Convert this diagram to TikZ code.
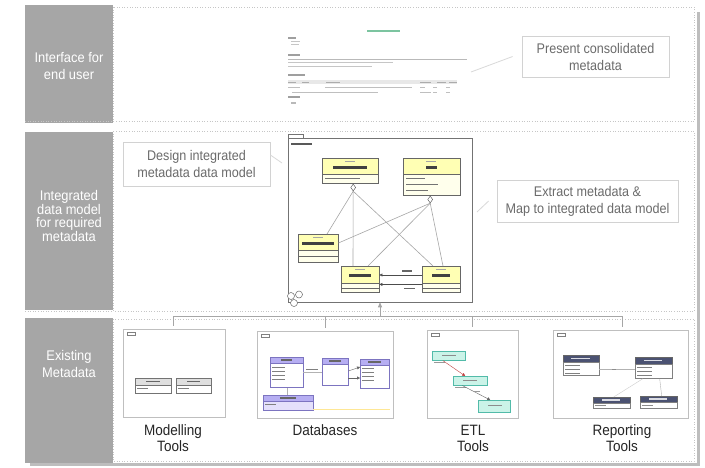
\documentclass[tikz,border=0pt]{standalone}
\usepackage{fontspec}
\setmainfont{Liberation Sans}
\newfontfamily\narrow[FakeStretch=0.9]{Liberation Sans}
\newfontfamily\colfont[FakeStretch=0.92]{Liberation Sans}
\usetikzlibrary{arrows.meta,shapes.geometric}
\definecolor{colgray}{HTML}{A6A6A6}
\definecolor{shadowgray}{HTML}{BDBDBD}
\definecolor{boxtext}{HTML}{6B6B6B}
\definecolor{boxline}{HTML}{D2D2D2}
\definecolor{umlyel}{HTML}{FFFFB4}
\definecolor{umlyel2}{HTML}{FFFFEC}
\definecolor{dbpur}{HTML}{B6AEF2}
\definecolor{dbpur2}{HTML}{E4E0FB}
\definecolor{dbline}{HTML}{7C74C0}
\definecolor{etlteal}{HTML}{CBF3E8}
\definecolor{etlline}{HTML}{52BBA9}
\definecolor{rpdark}{HTML}{4B5272}
\definecolor{webgreen}{HTML}{7CC4A0}
\newcommand\mkbox[8]{%
  \node[#7, anchor=north west, minimum width=#4, minimum height=#5] (#1) at (#2,#3) {};
  \node[#8, anchor=north, minimum width=#4, minimum height=#6] (#1b) at (#1.south) {};}
\begin{document}
\begin{tikzpicture}[x=1pt,y=-1pt,
  band/.style={draw=gray!45, dotted, line width=0.6pt},
  collabel/.style={text=white, align=center, inner sep=0, font=\colfont\fontsize{14}{17}\selectfont},
  descbox/.style={draw=boxline, line width=0.8pt, fill=white, align=center, inner sep=0,
    text=boxtext, font=\narrow\fontsize{14}{17}\selectfont},
  toollabel/.style={align=center, inner sep=0, text=black!85, font=\narrow\fontsize{15}{16}\selectfont},
  shot/.style={draw=gray!50, line width=0.5pt, fill=white, inner sep=0},
  faint/.style={draw=gray!30, line width=0.8pt},
  treeline/.style={draw=gray!70, line width=0.7pt},
  umlhead/.style={draw=black!60, fill=umlyel, line width=0.4pt, inner sep=0},
  umlbody/.style={draw=black!60, fill=umlyel2, line width=0.4pt, inner sep=0},
  umlline/.style={draw=gray!70, line width=0.6pt},
  tinyarrow/.style={-{Triangle[length=3pt,width=3pt]}, line width=0.4pt},
  graybox/.style={draw=black!55, fill=gray!25, line width=0.4pt, inner sep=0},
  whitebox/.style={draw=black!55, fill=white, line width=0.4pt, inner sep=0},
  purhead/.style={draw=dbline, fill=dbpur, line width=0.4pt, inner sep=0},
  purbody/.style={draw=dbline, fill=white, line width=0.4pt, inner sep=0},
  purbody2/.style={draw=dbline, fill=dbpur2, line width=0.4pt, inner sep=0},
  tealhead/.style={draw=etlline, fill=etlteal, line width=0.5pt, inner sep=0},
  tealbody/.style={draw=none, inner sep=0},
  darkhead/.style={draw=black!60, fill=rpdark, line width=0.4pt, inner sep=0},
  darkbody/.style={draw=black!50, fill=white, line width=0.4pt, inner sep=0},
  compmark/.style={draw=black!70, fill=white, diamond, inner sep=0, minimum width=5pt, minimum height=7pt, line width=0.4pt}
]
\useasboundingbox (0,0) rectangle (705,467);
\fill[white] (0,0) rectangle (705,467);
% shadow and frame
\fill[shadowgray] (697,12) rectangle (700,466);
\fill[shadowgray] (30,463) rectangle (700,466);
\fill[white] (25,5) rectangle (697,463);
% grey column
\fill[colgray] (25,5) rectangle (113,123);
\fill[colgray] (25,132) rectangle (113,310);
\fill[colgray] (25,318) rectangle (113,463);
% band borders
\draw[band] (113,7) rectangle (694,121);
\draw[band] (113,131) rectangle (694,311);
\draw[band] (113,319) rectangle (694,461);
\draw[band] (25,121) -- (113,121);
\draw[band] (25,311) -- (113,311);

% column labels
\node[collabel] (lab1) at (69,66) {Interface for\\end user};
\node[collabel, font=\colfont\fontsize{14}{13.5}\selectfont] (lab2) at (69,216) {Integrated\\data model\\for required\\metadata};
\node[collabel] (lab3) at (69,364) {Existing\\Metadata};

% ===== band 1: web page screenshot =====
\node[inner sep=0, minimum width=190, minimum height=85] (web) at (377,69) {};
\fill[webgreen] (367,30.3) rectangle (400,32);
\fill[gray!75] (288,36.8) rectangle (296,38.8);
\fill[gray!45] (291,41) rectangle (300,42);
\fill[gray!45] (291,44) rectangle (299,45);
\fill[gray!75] (288,54) rectangle (300,56);
\fill[gray!55] (288,58.5) rectangle (467,59.5);
\fill[gray!45] (288,62) rectangle (393,63);
\fill[gray!45] (288,65.5) rectangle (372,66.5);
\fill[gray!75] (288,74) rectangle (305,76);
\fill[gray!18] (288,80) rectangle (457,84);
\foreach \a/\b in {288/296,302/309,326/340,420/431,437/446,449/457}
  \fill[gray!65] (\a,81.5) rectangle (\b,82.5);
\foreach \a/\b in {288/300,325/412,420/425,433/437,446/450}
  \fill[gray!50] (\a,86.6) rectangle (\b,87.6);
\foreach \a/\b in {292/378,420/431,433/437,446/450}
  \fill[gray!50] (\a,91.6) rectangle (\b,92.6);
\fill[gray!75] (288,96) rectangle (300,98);
\fill[gray!55] (291,102) rectangle (296,104);

\node[descbox, minimum width=147, minimum height=41] (present) at (595.5,56.5) {Present consolidated\\metadata};
\coordinate (w1) at (471,72);
\draw[faint] (w1) -- ([xshift=-9pt]present.west);

% ===== band 2 =====
\node[descbox, minimum width=147, minimum height=44] (design) at (196.5,164) {Design integrated\\metadata data model};
\node[descbox, minimum width=181, minimum height=42] (extract) at (587.5,201) {Extract metadata \&\\Map to integrated data model};

% package
\node[draw=black!55, line width=0.5pt, inner sep=0, minimum width=184, minimum height=164] (pkg) at (380,220) {};
\draw[black!55, line width=0.4pt] (288,134) rectangle (303,138);
\fill[black!65] (291,143) rectangle (312,145);

\coordinate (d1) at (282,163);
\draw[faint] ([yshift=9pt]design.east) -- (d1);
\coordinate (x1) at (477,212);
\draw[faint] (x1) -- ([xshift=-8pt]extract.west);

% classes
\mkbox{A}{322}{158}{56}{16}{9}{umlhead}{umlbody}
\mkbox{B}{403}{158}{57}{16}{21}{umlhead}{umlbody}
\mkbox{C}{298}{234}{40}{16}{12}{umlhead}{umlbody}
\mkbox{D}{341}{266}{38}{17}{9}{umlhead}{umlbody}
\mkbox{E}{422}{266}{38}{17}{9}{umlhead}{umlbody}
% class texts
\fill[gray!70] (345,161) rectangle (355,162.3);
\fill[black!75] (333,166) rectangle (367,168.5);
\fill[black!55] (325,178) rectangle (360,179.3);
\fill[gray!70] (426,161) rectangle (436,162.3);
\fill[black!75] (426,166) rectangle (437,168.5);
\fill[black!55] (406,177.5) rectangle (425,178.8);
\fill[black!55] (406,183.5) rectangle (438,184.8);
\fill[black!55] (406,189.5) rectangle (428,190.8);
\fill[gray!70] (313,237) rectangle (323,238.3);
\fill[black!75] (302,242) rectangle (334,244.5);
\draw[black!60, line width=0.4pt] (298,256) -- (338,256);
\fill[gray!70] (355,269) rectangle (365,270.3);
\fill[black!75] (349,274) rectangle (371,276.5);
\fill[gray!70] (436,269) rectangle (446,270.3);
\fill[black!75] (432,274) rectangle (450,276.5);
\draw[black!60, line width=0.4pt] (341,288) -- (379,288);
\draw[black!60, line width=0.4pt] (422,288) -- (460,288);

\node[compmark, anchor=north] (Ad) at ([xshift=3pt]Ab.south) {};
\node[compmark, anchor=north] (Bd) at ([xshift=-1.5pt]Bb.south) {};

\draw[umlline] (Ad.south) -- ([xshift=29pt]C.north west);
\draw[umlline] (Ad.south) -- ([xshift=12pt]D.north west);
\draw[umlline] (Ad.south) -- ([xshift=11pt]E.north west);
\draw[umlline] (Bd.south) -- ([yshift=-9pt]C.north east);
\draw[umlline] (Bd.south) -- ([xshift=27pt]D.north west);
\draw[umlline] (Bd.south) -- ([xshift=21pt]E.north west);

\draw[tinyarrow, black!70] ([yshift=-9pt]E.north west) -- ([yshift=-9pt]D.north east);
\draw[tinyarrow, black!70] ([yshift=-1pt]Eb.north west) -- ([yshift=-1pt]Db.north east);
\fill[black!60] (402,270.3) rectangle (412,271.5);
\fill[black!60] (404,287.8) rectangle (415,289);

% package icon
\draw[black!60, fill=white, line width=0.5pt] (291,296) circle[radius=3.5pt];
\draw[black!60, fill=white, line width=0.5pt] (299,294.5) circle[radius=3.5pt];
\draw[black!60, fill=white, line width=0.5pt] (294,303) circle[radius=3.5pt];

% ===== band 3 =====
\node[shot, minimum width=102, minimum height=88] (s1) at (174,373) {};
\node[shot, minimum width=136, minimum height=87] (s2) at (325,374.5) {};
\node[shot, minimum width=91, minimum height=88] (s3) at (472.5,374) {};
\node[shot, minimum width=135, minimum height=88] (s4) at (620.5,374) {};

\node[toollabel] (mt) at (173,438) {Modelling\\Tools};
\node[toollabel] (dbt) at (325,430) {Databases};
\node[toollabel] (et) at (473,438) {ETL\\Tools};
\node[toollabel] (rt) at (622,438) {Reporting\\Tools};

% tree connector
\coordinate (tl) at (173,316);
\coordinate (tr) at (622,316);
\coordinate (tm) at (380,316);
\draw[treeline] (tl) -- (tr);
\draw[treeline] (tl) -- ([yshift=3pt]tl |- s1.north);
\draw[treeline] (s2.north |- tl) -- ([yshift=3pt]s2.north);
\draw[treeline] (s3.north |- tl) -- ([yshift=3pt]s3.north);
\draw[treeline] (tr) -- ([yshift=3pt]tr |- s4.north);
\draw[treeline, -{Triangle[length=5pt,width=4pt]}] (tm) -- (pkg.south);

% tab icons
\foreach \n in {s1,s2,s3,s4}
  \draw[black!50, line width=0.4pt] ([xshift=4pt,yshift=-3pt]\n.north west) rectangle ([xshift=12pt,yshift=-6pt]\n.north west);

% modelling tool
\mkbox{ma}{135}{378}{36}{7}{8}{graybox}{whitebox}
\mkbox{mb}{176}{378}{35}{7}{8}{graybox}{whitebox}
\fill[black!60] (146,380.8) rectangle (160,382.2);
\fill[black!60] (187,380.8) rectangle (200,382.2);
\fill[black!50] (137,388) rectangle (148,389);
\fill[black!50] (178,388) rectangle (189,389);

% databases
\mkbox{da}{270}{357}{33}{6}{24}{purhead}{purbody}
\mkbox{db}{322}{358}{26}{6}{21}{purhead}{purbody}
\mkbox{dc}{360}{359}{29}{6}{23}{purhead}{purbody}
\mkbox{dd}{263}{395}{50}{6}{9}{purhead}{purbody2}
\foreach \y in {367,371,375,379}
  \fill[black!50] (272,\y) rectangle (285,\y+1);
\foreach \y in {368,372,376,380}
  \fill[black!50] (362,\y) rectangle (374,\y+1);
\fill[black!60] (281,359) rectangle (292,360.5);
\fill[black!60] (329,360) rectangle (341,361.5);
\fill[black!60] (368,361) rectangle (381,362.5);
\fill[black!60] (280,397) rectangle (296,398.5);
\fill[black!50] (265,404) rectangle (276,405);
\draw[gray!60, line width=0.4pt] (da.east |- 0,372) -- (db.west |- 0,372);
\fill[black!50] (306,369) rectangle (318,370);
\draw[tinyarrow, black!60] (db.east |- 0,371) -- (dc.west |- 0,367);
\draw[tinyarrow, black!60] (db.east |- 0,378) -- (dc.west |- 0,378);
\draw[gray!60, line width=0.4pt] (dab.south) -- (dd.north -| dab.south);
\draw[yellow!60!orange!40, line width=0.5pt] (313,409) -- (390,409);

% ETL
\mkbox{ea}{432}{351}{33}{9}{4}{tealhead}{tealbody}
\mkbox{eb}{453}{376}{34}{9}{4}{tealhead}{tealbody}
\mkbox{ec}{478}{400}{32}{12}{2}{tealhead}{tealbody}
\fill[black!45] (442,355) rectangle (456,356);
\fill[black!45] (463,380) rectangle (477,381);
\fill[black!45] (488,405) rectangle (502,406);
\fill[black!40] (434,362) rectangle (445,363);
\fill[black!40] (455,387) rectangle (466,388);
\draw[tinyarrow, red!50!gray] ([xshift=-6pt]ea.south) -- ([xshift=-5pt]eb.north);
\draw[tinyarrow, black!60] ([xshift=-8pt]eb.south) -- ([xshift=-4pt]ec.north);
\fill[black!40] (474,391) rectangle (480,392);

% reporting
\mkbox{ra}{563}{355}{36}{7}{13}{darkhead}{darkbody}
\mkbox{rb}{635}{357}{37}{7}{14}{darkhead}{darkbody}
\mkbox{rc}{593}{397}{37}{6}{5}{darkhead}{darkbody}
\mkbox{rd}{640}{396}{37}{6}{6}{darkhead}{darkbody}
\fill[white!80!rpdark] (571,357.7) rectangle (590,359.3);
\fill[white!80!rpdark] (644,359.7) rectangle (662,361.3);
\fill[white!80!rpdark] (602,399.3) rectangle (620,400.7);
\fill[white!80!rpdark] (649,398.3) rectangle (667,399.7);
\foreach \y in {365,369,373}
  \fill[black!50] (565,\y) rectangle (580,\y+1);
\foreach \y in {367,371,375}
  \fill[black!50] (637,\y) rectangle (652,\y+1);
\fill[black!45] (595,405) rectangle (606,406);
\fill[black!45] (642,405) rectangle (653,406);
\draw[gray!60, line width=0.4pt] (rab.east |- 0,369) -- (rbb.west |- 0,369);
\fill[black!45] (612,368.5) rectangle (616,369.5);
\draw[gray!40, line width=0.4pt] ([xshift=-11pt]rbb.south) -- ([xshift=2pt]rc.north);
\draw[gray!60, line width=0.4pt] ([xshift=6pt]rbb.south) -- ([xshift=3pt]rd.north);
\end{tikzpicture}
\end{document}
